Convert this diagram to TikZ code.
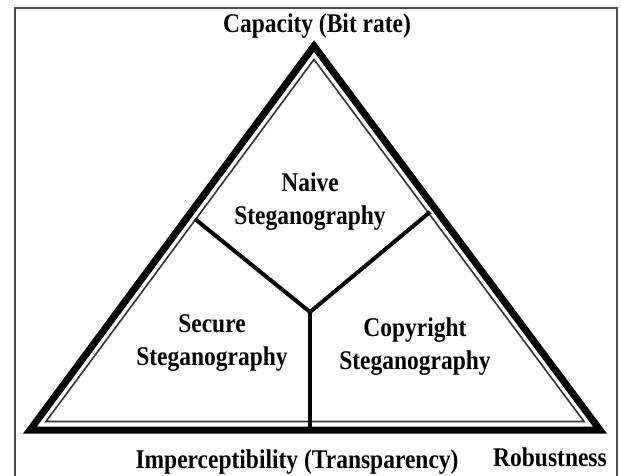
\documentclass[tikz,border=0pt]{standalone}
\usepackage{fontspec}
\setmainfont{Liberation Serif}[FakeStretch=0.87]
\usetikzlibrary{positioning}
\tikzset{
    trade/.style={x=1pt, y=-1pt, font=\fontsize{27}{33}\selectfont\bfseries},
    frame line/.style={draw=black!70, line width=2pt},
    outer edge/.style={line width=7pt, line join=miter},
    inner edge/.style={line width=1.6pt, draw=black!80},
    split line/.style={line width=4pt},
    region label/.style={align=center, inner sep=0pt},
    axis label/.style={inner sep=0pt, anchor=base},
}

\begin{document}
\begin{tikzpicture}[trade]
    \useasboundingbox (0,0) rectangle (621,476);
    \begin{scope}
    \clip (0,0) rectangle (621,476);
    \draw[frame line] (15,8) rectangle (617,495);
    \end{scope}

    % corners of the two triangles
    \coordinate (top) at (314,46);
    \coordinate (left) at (30,430);
    \coordinate (right) at (600,430);
    \coordinate (itop) at (314,59.5);
    \coordinate (ileft) at (46,421.5);
    \coordinate (iright) at (584,421.5);
    \draw[outer edge] (left) -- (top) -- (right) -- cycle;
    \draw[inner edge] (ileft) -- (itop) -- (iright) -- cycle;

    % the three regions
    \coordinate (mid) at (310,312);
    \coordinate (lside) at (195,219);
    \coordinate (rside) at (430,212);
    \coordinate (base) at (310,430);
    \draw[split line] (lside) -- (mid) -- (rside);
    \draw[split line] (mid) -- (base);

    \node[region label] (naive) at (310,202) {Naive\\Steganography};
    \node[region label] (secure) at (212,343) {Secure\\Steganography};
    \node[region label] (copyright) at (415,347) {Copyright\\Steganography};

    % the three goals
    \node[axis label] (capacity) at (317,33) {Capacity (Bit rate)};
    \node[axis label] (imperc) at (297,468) {Imperceptibility (Transparency)};
    \node[axis label] (robust) at (550,466) {Robustness};
\end{tikzpicture}
\end{document}
